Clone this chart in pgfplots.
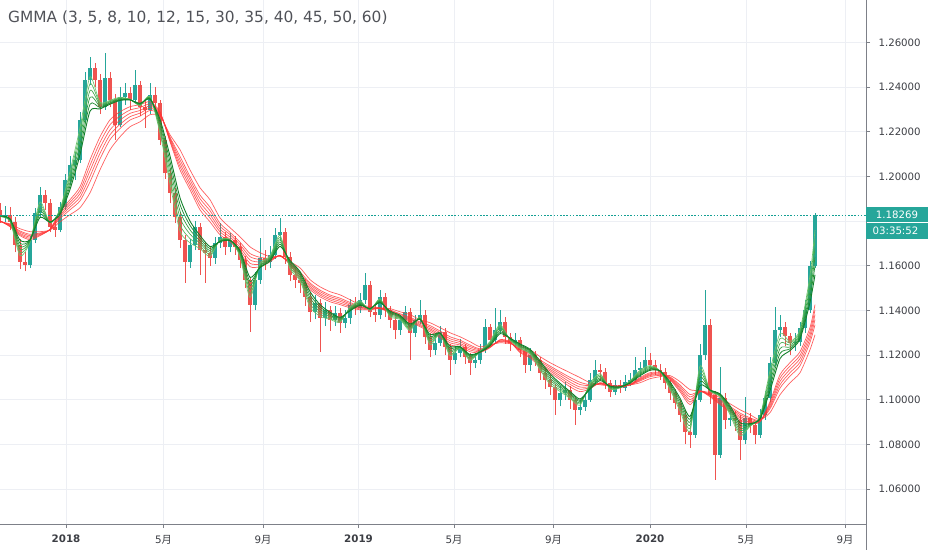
\documentclass[border=0pt]{standalone}
\usepackage{fontspec}
\setmainfont{DejaVu Sans}
\newfontfamily\cjk{Noto Sans CJK SC}
\usepackage{pgfplots}
\usepackage{pgfplotstable}
\pgfplotsset{compat=1.18}

\definecolor{upc}{RGB}{38,166,154}
\definecolor{dnc}{RGB}{239,83,80}
\definecolor{gridc}{RGB}{237,239,244}
\definecolor{axisc}{RGB}{125,128,136}
\definecolor{labc}{RGB}{60,62,68}
\definecolor{titc}{RGB}{80,82,88}
\definecolor{gA}{RGB}{110,195,110}
\definecolor{gB}{RGB}{85,182,90}
\definecolor{gC}{RGB}{65,168,75}
\definecolor{gD}{RGB}{48,155,62}
\definecolor{gE}{RGB}{32,142,52}
\definecolor{gF}{RGB}{18,128,42}
\definecolor{lr}{RGB}{255,55,55}
\definecolor{pline}{RGB}{20,160,148}

\pgfplotsset{
  candle/.style 2 args={draw=none, no markers, forget plot,
    error bars/.cd, y dir=plus, y explicit, error mark=none,
    error bar style={draw=#1, line width=#2}},
}

\pgfplotstableread{
x o h l c
5 1.1820 1.1868 1.1795 1.1829
30 1.1605 1.1735 1.1590 1.1717
35 1.1717 1.1860 1.1700 1.1838
40 1.1838 1.1955 1.1815 1.1918
60 1.1762 1.1885 1.1750 1.1865
65 1.1865 1.2010 1.1850 1.1986
70 1.1986 1.2090 1.1965 1.2053
75 1.2053 1.2110 1.1985 1.2075
80 1.2075 1.2290 1.2060 1.2254
85 1.2254 1.2470 1.2240 1.2434
90 1.2434 1.2537 1.2410 1.2487
105 1.2313 1.2555 1.2300 1.2443
120 1.2232 1.2400 1.2220 1.2357
125 1.2357 1.2420 1.2320 1.2375
135 1.2344 1.2478 1.2330 1.2411
150 1.2299 1.2420 1.2280 1.2366
190 1.1618 1.1720 1.1590 1.1694
195 1.1694 1.1800 1.1670 1.1775
215 1.1636 1.1730 1.1610 1.1703
220 1.1703 1.1793 1.1680 1.1730
230 1.1685 1.1745 1.1660 1.1717
255 1.1426 1.1570 1.1400 1.1538
260 1.1538 1.1726 1.1520 1.1636
270 1.1618 1.1690 1.1590 1.1650
275 1.1650 1.1770 1.1630 1.1739
280 1.1739 1.1815 1.1710 1.1753
315 1.1394 1.1470 1.1360 1.1435
325 1.1367 1.1440 1.1330 1.1403
335 1.1358 1.1420 1.1330 1.1390
345 1.1345 1.1400 1.1320 1.1367
350 1.1367 1.1450 1.1340 1.1426
360 1.1412 1.1480 1.1390 1.1448
365 1.1448 1.1569 1.1430 1.1515
380 1.1380 1.1490 1.1360 1.1461
400 1.1314 1.1380 1.1290 1.1358
405 1.1358 1.1420 1.1340 1.1394
415 1.1300 1.1380 1.1280 1.1358
420 1.1358 1.1448 1.1340 1.1381
435 1.1224 1.1290 1.1200 1.1255
440 1.1255 1.1330 1.1240 1.1305
455 1.1179 1.1240 1.1160 1.1211
460 1.1211 1.1270 1.1190 1.1237
475 1.1166 1.1210 1.1140 1.1179
480 1.1179 1.1250 1.1160 1.1224
485 1.1224 1.1360 1.1210 1.1327
495 1.1269 1.1412 1.1250 1.1314
500 1.1314 1.1400 1.1300 1.1350
515 1.1255 1.1300 1.1230 1.1269
530 1.1157 1.1230 1.1130 1.1202
560 1.1000 1.1060 1.0970 1.1031
565 1.1031 1.1080 1.1000 1.1045
580 1.0955 1.1000 1.0930 1.0969
585 1.0969 1.1030 1.0950 1.1000
590 1.1000 1.1120 1.0990 1.1090
595 1.1090 1.1179 1.1070 1.1134
615 1.1036 1.1090 1.1020 1.1067
625 1.1054 1.1110 1.1040 1.1081
630 1.1081 1.1120 1.1060 1.1090
635 1.1090 1.1193 1.1080 1.1134
640 1.1134 1.1170 1.1100 1.1140
645 1.1140 1.1237 1.1120 1.1179
695 1.0843 1.1020 1.0830 1.1000
700 1.1000 1.1250 1.0990 1.1202
705 1.1202 1.1493 1.1180 1.1336
720 1.0754 1.1148 1.0740 1.1009
730 1.0910 1.0960 1.0880 1.0919
745 1.0821 1.1014 1.0800 1.0919
760 1.0843 1.0960 1.0830 1.0933
765 1.0933 1.1040 1.0910 1.1009
770 1.1009 1.1190 1.0990 1.1166
775 1.1166 1.1417 1.1150 1.1314
780 1.1314 1.1380 1.1280 1.1327
795 1.1255 1.1300 1.1220 1.1260
800 1.1260 1.1350 1.1240 1.1323
805 1.1323 1.1448 1.1300 1.1403
810 1.1403 1.1620 1.1390 1.1600
815 1.1600 1.1835 1.1590 1.1827
}\upcandles

\pgfplotstableread{
x o h l c
0 1.1850 1.1880 1.1790 1.1820
10 1.1829 1.1862 1.1760 1.1797
15 1.1797 1.1820 1.1660 1.1694
20 1.1694 1.1720 1.1585 1.1618
25 1.1618 1.1660 1.1575 1.1605
45 1.1918 1.1940 1.1850 1.1883
50 1.1883 1.1900 1.1750 1.1775
55 1.1775 1.1805 1.1730 1.1762
95 1.2487 1.2510 1.2400 1.2434
100 1.2434 1.2460 1.2280 1.2313
110 1.2443 1.2470 1.2310 1.2344
115 1.2344 1.2370 1.2165 1.2232
130 1.2375 1.2400 1.2300 1.2344
140 1.2411 1.2430 1.2270 1.2313
145 1.2313 1.2340 1.2219 1.2299
155 1.2366 1.2400 1.2300 1.2331
160 1.2331 1.2345 1.2140 1.2165
165 1.2165 1.2180 1.1990 1.2017
170 1.2017 1.2040 1.1880 1.1927
175 1.1927 1.1950 1.1790 1.1820
180 1.1820 1.1840 1.1680 1.1717
185 1.1717 1.1740 1.1524 1.1618
200 1.1775 1.1790 1.1560 1.1672
205 1.1672 1.1700 1.1524 1.1659
210 1.1659 1.1690 1.1600 1.1636
225 1.1730 1.1750 1.1650 1.1685
235 1.1717 1.1735 1.1650 1.1685
240 1.1685 1.1700 1.1590 1.1627
245 1.1627 1.1645 1.1500 1.1538
250 1.1538 1.1550 1.1305 1.1426
265 1.1636 1.1670 1.1580 1.1618
285 1.1753 1.1770 1.1610 1.1641
290 1.1641 1.1660 1.1530 1.1560
295 1.1560 1.1600 1.1500 1.1538
300 1.1538 1.1570 1.1480 1.1524
305 1.1524 1.1540 1.1420 1.1461
310 1.1461 1.1480 1.1350 1.1394
320 1.1435 1.1450 1.1215 1.1367
330 1.1403 1.1420 1.1310 1.1358
340 1.1390 1.1410 1.1300 1.1345
355 1.1426 1.1460 1.1380 1.1412
370 1.1515 1.1530 1.1370 1.1394
375 1.1394 1.1430 1.1350 1.1380
385 1.1461 1.1480 1.1370 1.1403
390 1.1403 1.1420 1.1320 1.1358
395 1.1358 1.1370 1.1270 1.1314
410 1.1394 1.1410 1.1179 1.1300
425 1.1381 1.1400 1.1250 1.1282
430 1.1282 1.1300 1.1190 1.1224
445 1.1305 1.1320 1.1200 1.1237
450 1.1237 1.1250 1.1112 1.1179
465 1.1237 1.1250 1.1160 1.1193
470 1.1193 1.1210 1.1112 1.1166
490 1.1327 1.1340 1.1240 1.1269
505 1.1350 1.1370 1.1250 1.1282
510 1.1282 1.1300 1.1220 1.1255
520 1.1269 1.1280 1.1190 1.1224
525 1.1224 1.1240 1.1120 1.1157
535 1.1202 1.1220 1.1150 1.1179
540 1.1179 1.1190 1.1090 1.1121
545 1.1121 1.1140 1.1050 1.1090
550 1.1090 1.1110 1.1020 1.1058
555 1.1058 1.1070 1.0933 1.1000
570 1.1045 1.1060 1.0960 1.1000
575 1.1000 1.1010 1.0888 1.0955
600 1.1134 1.1160 1.1090 1.1125
605 1.1125 1.1140 1.1050 1.1076
610 1.1076 1.1090 1.1010 1.1036
620 1.1067 1.1090 1.1030 1.1054
650 1.1179 1.1210 1.1130 1.1157
655 1.1157 1.1180 1.1110 1.1134
660 1.1134 1.1160 1.1090 1.1125
665 1.1125 1.1140 1.1050 1.1076
670 1.1076 1.1090 1.1000 1.1031
675 1.1031 1.1050 1.0960 1.0987
680 1.0987 1.1000 1.0900 1.0933
685 1.0933 1.0950 1.0800 1.0857
690 1.0857 1.0880 1.0785 1.0843
710 1.1336 1.1360 1.0980 1.1022
715 1.1022 1.1040 1.0642 1.0754
725 1.1009 1.1030 1.0870 1.0910
735 1.0919 1.0950 1.0860 1.0910
740 1.0910 1.0930 1.0731 1.0821
750 1.0919 1.0940 1.0850 1.0888
755 1.0888 1.0900 1.0800 1.0843
785 1.1327 1.1350 1.1240 1.1287
790 1.1287 1.1300 1.1200 1.1255
}\dncandles

\pgfplotstableread{
x g1 g2 g3 g4 g5 g6
0 1.1820 1.1821 1.1822 1.1823 1.1824 1.1825
10 1.1800 1.1802 1.1804 1.1807 1.1809 1.1811
20 1.1645 1.1659 1.1673 1.1687 1.1701 1.1715
30 1.1706 1.1708 1.1710 1.1712 1.1714 1.1716
40 1.1886 1.1872 1.1858 1.1845 1.1831 1.1817
50 1.1792 1.1793 1.1794 1.1794 1.1795 1.1796
60 1.1854 1.1849 1.1845 1.1840 1.1836 1.1831
70 1.2023 1.2007 1.1991 1.1974 1.1958 1.1942
80 1.2219 1.2195 1.2171 1.2146 1.2122 1.2098
90 1.2447 1.2416 1.2385 1.2355 1.2324 1.2293
100 1.2333 1.2327 1.2321 1.2315 1.2309 1.2303
110 1.2342 1.2338 1.2335 1.2331 1.2328 1.2324
120 1.2355 1.2352 1.2349 1.2347 1.2344 1.2341
130 1.2346 1.2345 1.2345 1.2344 1.2344 1.2343
140 1.2318 1.2320 1.2322 1.2324 1.2326 1.2328
150 1.2359 1.2357 1.2354 1.2352 1.2349 1.2347
160 1.2194 1.2206 1.2219 1.2231 1.2244 1.2256
170 1.1967 1.1992 1.2017 1.2042 1.2067 1.2092
180 1.1755 1.1785 1.1815 1.1845 1.1875 1.1905
190 1.1703 1.1722 1.1742 1.1761 1.1781 1.1800
200 1.1677 1.1689 1.1701 1.1712 1.1724 1.1736
210 1.1642 1.1651 1.1660 1.1668 1.1677 1.1686
220 1.1717 1.1715 1.1713 1.1712 1.1710 1.1708
230 1.1717 1.1716 1.1715 1.1715 1.1714 1.1713
240 1.1641 1.1647 1.1653 1.1658 1.1664 1.1670
250 1.1458 1.1476 1.1494 1.1512 1.1530 1.1548
260 1.1609 1.1606 1.1602 1.1599 1.1595 1.1592
270 1.1644 1.1639 1.1635 1.1630 1.1626 1.1621
280 1.1737 1.1727 1.1717 1.1707 1.1697 1.1687
290 1.1587 1.1594 1.1602 1.1609 1.1617 1.1624
300 1.1533 1.1541 1.1549 1.1558 1.1566 1.1574
310 1.1415 1.1429 1.1443 1.1456 1.1470 1.1484
320 1.1374 1.1384 1.1395 1.1405 1.1416 1.1426
330 1.1360 1.1366 1.1373 1.1379 1.1386 1.1392
340 1.1347 1.1351 1.1356 1.1360 1.1365 1.1369
350 1.1414 1.1411 1.1408 1.1404 1.1401 1.1398
360 1.1443 1.1439 1.1435 1.1431 1.1427 1.1423
370 1.1401 1.1403 1.1404 1.1406 1.1407 1.1409
380 1.1452 1.1449 1.1445 1.1442 1.1438 1.1435
390 1.1372 1.1377 1.1382 1.1387 1.1392 1.1397
400 1.1360 1.1364 1.1367 1.1371 1.1374 1.1378
410 1.1309 1.1315 1.1321 1.1327 1.1333 1.1339
420 1.1370 1.1368 1.1366 1.1364 1.1362 1.1360
430 1.1246 1.1255 1.1264 1.1274 1.1283 1.1292
440 1.1296 1.1297 1.1297 1.1298 1.1298 1.1299
450 1.1197 1.1205 1.1214 1.1222 1.1231 1.1239
460 1.1231 1.1232 1.1234 1.1235 1.1237 1.1238
470 1.1176 1.1181 1.1186 1.1192 1.1197 1.1202
480 1.1217 1.1216 1.1215 1.1215 1.1214 1.1213
490 1.1261 1.1257 1.1253 1.1249 1.1245 1.1241
500 1.1337 1.1329 1.1321 1.1312 1.1304 1.1296
510 1.1267 1.1269 1.1271 1.1272 1.1274 1.1276
520 1.1230 1.1234 1.1238 1.1242 1.1246 1.1250
530 1.1206 1.1210 1.1214 1.1218 1.1222 1.1226
540 1.1134 1.1142 1.1150 1.1158 1.1166 1.1174
550 1.1069 1.1078 1.1088 1.1097 1.1107 1.1116
560 1.1037 1.1044 1.1052 1.1059 1.1067 1.1074
570 1.1006 1.1012 1.1018 1.1025 1.1031 1.1037
580 1.0975 1.0981 1.0986 1.0992 1.0997 1.1003
590 1.1073 1.1068 1.1063 1.1057 1.1052 1.1047
600 1.1117 1.1111 1.1105 1.1098 1.1092 1.1086
610 1.1048 1.1051 1.1053 1.1056 1.1058 1.1061
620 1.1053 1.1054 1.1055 1.1056 1.1057 1.1058
630 1.1084 1.1082 1.1080 1.1078 1.1076 1.1074
640 1.1132 1.1127 1.1122 1.1117 1.1112 1.1107
650 1.1153 1.1149 1.1145 1.1140 1.1136 1.1132
660 1.1129 1.1129 1.1129 1.1129 1.1129 1.1129
670 1.1046 1.1053 1.1060 1.1066 1.1073 1.1080
680 1.0950 1.0961 1.0973 1.0984 1.0996 1.1007
690 1.0859 1.0872 1.0885 1.0899 1.0912 1.0925
700 1.1151 1.1134 1.1116 1.1099 1.1081 1.1064
710 1.1041 1.1041 1.1042 1.1042 1.1043 1.1043
720 1.1014 1.1016 1.1019 1.1021 1.1024 1.1026
730 1.0933 1.0941 1.0949 1.0957 1.0965 1.0973
740 1.0838 1.0850 1.0862 1.0873 1.0885 1.0897
750 1.0881 1.0883 1.0886 1.0888 1.0891 1.0893
760 1.0925 1.0923 1.0920 1.0918 1.0915 1.0913
770 1.1130 1.1112 1.1094 1.1076 1.1058 1.1040
780 1.1297 1.1274 1.1252 1.1229 1.1207 1.1184
790 1.1261 1.1253 1.1245 1.1236 1.1228 1.1220
800 1.1314 1.1306 1.1297 1.1289 1.1280 1.1272
810 1.1557 1.1533 1.1509 1.1484 1.1460 1.1436
815 1.1760 1.1720 1.1680 1.1640 1.1600 1.1560
}\shortema

\pgfplotstableread{
x r1 r2 r3 r4 r5 r6
0 1.1802 1.1801 1.1800 1.1800 1.1799 1.1797
10 1.1775 1.1777 1.1779 1.1782 1.1784 1.1788
20 1.1735 1.1740 1.1745 1.1751 1.1756 1.1766
30 1.1717 1.1723 1.1729 1.1735 1.1741 1.1753
40 1.1735 1.1738 1.1741 1.1744 1.1747 1.1753
50 1.1764 1.1763 1.1762 1.1762 1.1761 1.1760
60 1.1842 1.1834 1.1827 1.1820 1.1812 1.1797
70 1.1896 1.1885 1.1874 1.1863 1.1851 1.1829
80 1.1954 1.1938 1.1923 1.1907 1.1891 1.1860
90 1.2075 1.2050 1.2026 1.2001 1.1976 1.1927
100 1.2178 1.2153 1.2129 1.2104 1.2079 1.2030
110 1.2254 1.2232 1.2209 1.2187 1.2165 1.2120
120 1.2290 1.2271 1.2253 1.2234 1.2215 1.2178
130 1.2313 1.2298 1.2283 1.2268 1.2253 1.2223
140 1.2322 1.2309 1.2296 1.2284 1.2271 1.2245
150 1.2335 1.2325 1.2316 1.2306 1.2296 1.2277
160 1.2290 1.2287 1.2284 1.2281 1.2278 1.2272
170 1.2156 1.2161 1.2166 1.2172 1.2177 1.2187
180 1.2030 1.2045 1.2060 1.2075 1.2090 1.2120
190 1.1941 1.1956 1.1971 1.1986 1.2000 1.2030
200 1.1851 1.1868 1.1884 1.1901 1.1917 1.1950
210 1.1797 1.1814 1.1830 1.1847 1.1863 1.1896
220 1.1739 1.1752 1.1764 1.1777 1.1790 1.1815
230 1.1708 1.1719 1.1729 1.1740 1.1750 1.1771
240 1.1659 1.1671 1.1683 1.1695 1.1706 1.1730
250 1.1596 1.1611 1.1626 1.1641 1.1655 1.1685
260 1.1596 1.1607 1.1617 1.1628 1.1638 1.1659
270 1.1618 1.1622 1.1626 1.1630 1.1633 1.1641
280 1.1647 1.1646 1.1645 1.1645 1.1644 1.1643
290 1.1605 1.1607 1.1609 1.1612 1.1614 1.1618
300 1.1538 1.1547 1.1556 1.1565 1.1573 1.1591
310 1.1493 1.1501 1.1508 1.1516 1.1523 1.1538
320 1.1461 1.1469 1.1476 1.1484 1.1491 1.1506
330 1.1439 1.1447 1.1454 1.1462 1.1469 1.1484
340 1.1426 1.1433 1.1441 1.1448 1.1455 1.1470
350 1.1412 1.1418 1.1424 1.1430 1.1436 1.1448
360 1.1403 1.1407 1.1411 1.1415 1.1418 1.1426
370 1.1403 1.1405 1.1408 1.1410 1.1412 1.1417
380 1.1408 1.1409 1.1409 1.1410 1.1411 1.1412
390 1.1390 1.1393 1.1396 1.1399 1.1402 1.1408
400 1.1367 1.1372 1.1376 1.1381 1.1385 1.1394
410 1.1349 1.1354 1.1360 1.1365 1.1370 1.1381
420 1.1327 1.1332 1.1337 1.1343 1.1348 1.1358
430 1.1305 1.1312 1.1318 1.1325 1.1332 1.1345
440 1.1278 1.1286 1.1293 1.1301 1.1308 1.1323
450 1.1246 1.1255 1.1264 1.1273 1.1282 1.1300
460 1.1237 1.1245 1.1252 1.1260 1.1267 1.1282
470 1.1215 1.1223 1.1230 1.1238 1.1245 1.1260
480 1.1211 1.1215 1.1220 1.1224 1.1228 1.1237
490 1.1233 1.1235 1.1237 1.1240 1.1242 1.1246
500 1.1269 1.1267 1.1264 1.1262 1.1260 1.1255
510 1.1260 1.1258 1.1257 1.1256 1.1254 1.1251
520 1.1211 1.1215 1.1220 1.1224 1.1228 1.1237
530 1.1188 1.1194 1.1200 1.1206 1.1212 1.1224
540 1.1148 1.1156 1.1163 1.1171 1.1178 1.1193
550 1.1121 1.1129 1.1136 1.1144 1.1151 1.1166
560 1.1090 1.1099 1.1108 1.1117 1.1125 1.1143
570 1.1058 1.1069 1.1079 1.1090 1.1100 1.1121
580 1.1036 1.1047 1.1057 1.1068 1.1078 1.1099
590 1.1049 1.1054 1.1058 1.1063 1.1067 1.1076
600 1.1076 1.1075 1.1073 1.1072 1.1070 1.1067
610 1.1064 1.1064 1.1063 1.1063 1.1062 1.1062
620 1.1054 1.1056 1.1057 1.1059 1.1060 1.1063
630 1.1068 1.1068 1.1067 1.1067 1.1066 1.1066
640 1.1099 1.1095 1.1091 1.1088 1.1084 1.1076
650 1.1121 1.1116 1.1112 1.1108 1.1103 1.1094
660 1.1121 1.1118 1.1115 1.1112 1.1109 1.1103
670 1.1090 1.1093 1.1096 1.1099 1.1102 1.1108
680 1.1036 1.1044 1.1051 1.1059 1.1066 1.1081
690 1.0978 1.0989 1.1000 1.1012 1.1023 1.1045
700 1.1036 1.1037 1.1037 1.1038 1.1039 1.1040
710 1.1013 1.1016 1.1019 1.1022 1.1025 1.1031
720 1.0978 1.0983 1.0988 1.0994 1.0999 1.1009
730 1.0946 1.0952 1.0958 1.0964 1.0970 1.0982
740 1.0910 1.0918 1.0925 1.0933 1.0940 1.0955
750 1.0892 1.0899 1.0906 1.0913 1.0919 1.0933
760 1.0901 1.0903 1.0904 1.0906 1.0907 1.0910
770 1.0991 1.0983 1.0975 1.0967 1.0959 1.0942
780 1.1112 1.1097 1.1082 1.1067 1.1052 1.1022
790 1.1166 1.1151 1.1136 1.1121 1.1106 1.1076
800 1.1215 1.1199 1.1184 1.1168 1.1152 1.1121
810 1.1323 1.1306 1.1290 1.1274 1.1257 1.1224
815 1.1426 1.1403 1.1381 1.1359 1.1336 1.1291
}\longema

\begin{document}
\begin{tikzpicture}
\useasboundingbox (0,-26pt) rectangle (932pt,524pt);
\begin{axis}[
  at={(0,0)}, anchor=south west,
  scale only axis, width=866pt, height=524pt,
  xmin=0, xmax=866, ymin=1.0443, ymax=1.2791,
  axis x line*=bottom, axis y line*=right,
  axis line style={draw=axisc, line width=0.8pt},
  tick style={draw=axisc, line width=0.8pt},
  tick align=outside, major tick length=4pt,
  xmajorgrids, ymajorgrids,
  major grid style={draw=gridc, line width=0.8pt},
  xtick={66,163.5,263,358.5,454,553.5,650,746,845},
  xticklabels={\textbf{2018},5{\cjk 月},9{\cjk 月},\textbf{2019},5{\cjk 月},9{\cjk 月},\textbf{2020},5{\cjk 月},9{\cjk 月}},
  ytick={1.06,1.08,1.10,1.12,1.14,1.16,1.18,1.20,1.22,1.24,1.26},
  yticklabels={1.06000,1.08000,1.10000,1.12000,1.14000,1.16000,,1.20000,1.22000,1.24000,1.26000},
  xticklabel style={font=\fontsize{10.3}{12}\selectfont, text=labc, yshift=-3.5pt},
  yticklabel style={font=\fontsize{10.2}{12}\selectfont, text=labc, xshift=5pt},
  clip=false,
]
% wicks
\addplot[candle={upc}{1pt}] table[x=x, y=l, y error expr=\thisrow{h}-\thisrow{l}] \upcandles;
\addplot[candle={dnc}{1pt}] table[x=x, y=l, y error expr=\thisrow{h}-\thisrow{l}] \dncandles;
% bodies
\addplot[candle={upc}{3.3pt}] table[x=x, y=o, y error expr=\thisrow{c}-\thisrow{o}] \upcandles;
\addplot[candle={dnc}{3.3pt}] table[x=x, y=c, y error expr=\thisrow{o}-\thisrow{c}] \dncandles;

% long-term GMMA
\addplot[lr, line width=0.7pt, opacity=0.8, smooth, tension=0.4] table[x=x,y=r1] \longema;
\addplot[lr, line width=0.7pt, opacity=0.8, smooth, tension=0.4] table[x=x,y=r2] \longema;
\addplot[lr, line width=0.7pt, opacity=0.8, smooth, tension=0.4] table[x=x,y=r3] \longema;
\addplot[lr, line width=0.7pt, opacity=0.8, smooth, tension=0.4] table[x=x,y=r4] \longema;
\addplot[lr, line width=0.7pt, opacity=0.8, smooth, tension=0.4] table[x=x,y=r5] \longema;
\addplot[lr, line width=0.7pt, opacity=0.8, smooth, tension=0.4] table[x=x,y=r6] \longema;
% short-term GMMA
\addplot[gA, line width=0.65pt, smooth, tension=0.4] table[x=x,y=g1] \shortema;
\addplot[gB, line width=0.65pt, smooth, tension=0.4] table[x=x,y=g2] \shortema;
\addplot[gC, line width=0.65pt, smooth, tension=0.4] table[x=x,y=g3] \shortema;
\addplot[gD, line width=0.7pt, smooth, tension=0.4] table[x=x,y=g4] \shortema;
\addplot[gE, line width=0.75pt, smooth, tension=0.4] table[x=x,y=g5] \shortema;
\addplot[gF, line width=0.9pt, smooth, tension=0.4] table[x=x,y=g6] \shortema;

% last price line
\addplot[pline, line width=1.1pt, dash pattern=on 1.6pt off 1.6pt] coordinates {(0,1.18269) (866,1.18269)};

\coordinate (P) at (axis cs:866,1.18269);
\coordinate (TL) at (rel axis cs:0,1);
\coordinate (BR) at (rel axis cs:1,0);
\end{axis}
\draw[axisc, line width=0.8pt] (BR) -- ++(0,-26pt);
\node[anchor=base west, inner sep=0pt, font=\fontsize{15.4}{18}\selectfont, text=titc]
  at ([shift={(8pt,-22.7pt)}]TL) {GMMA (3, 5, 8, 10, 12, 15, 30, 35, 40, 45, 50, 60)};
\fill[upc] ([shift={(0pt,7.9pt)}]P) rectangle ([shift={(62pt,-7.1pt)}]P);
\fill[upc] ([shift={(0pt,-8.1pt)}]P) rectangle ([shift={(62pt,-24.1pt)}]P);
\node[text=white, font=\fontsize{10.2}{12}\selectfont, inner sep=0pt] at ([shift={(31pt,0.4pt)}]P) {1.18269};
\node[text=white, font=\fontsize{10.2}{12}\selectfont, inner sep=0pt] at ([shift={(29.5pt,-16pt)}]P) {03:35:52};
\end{tikzpicture}
\end{document}
